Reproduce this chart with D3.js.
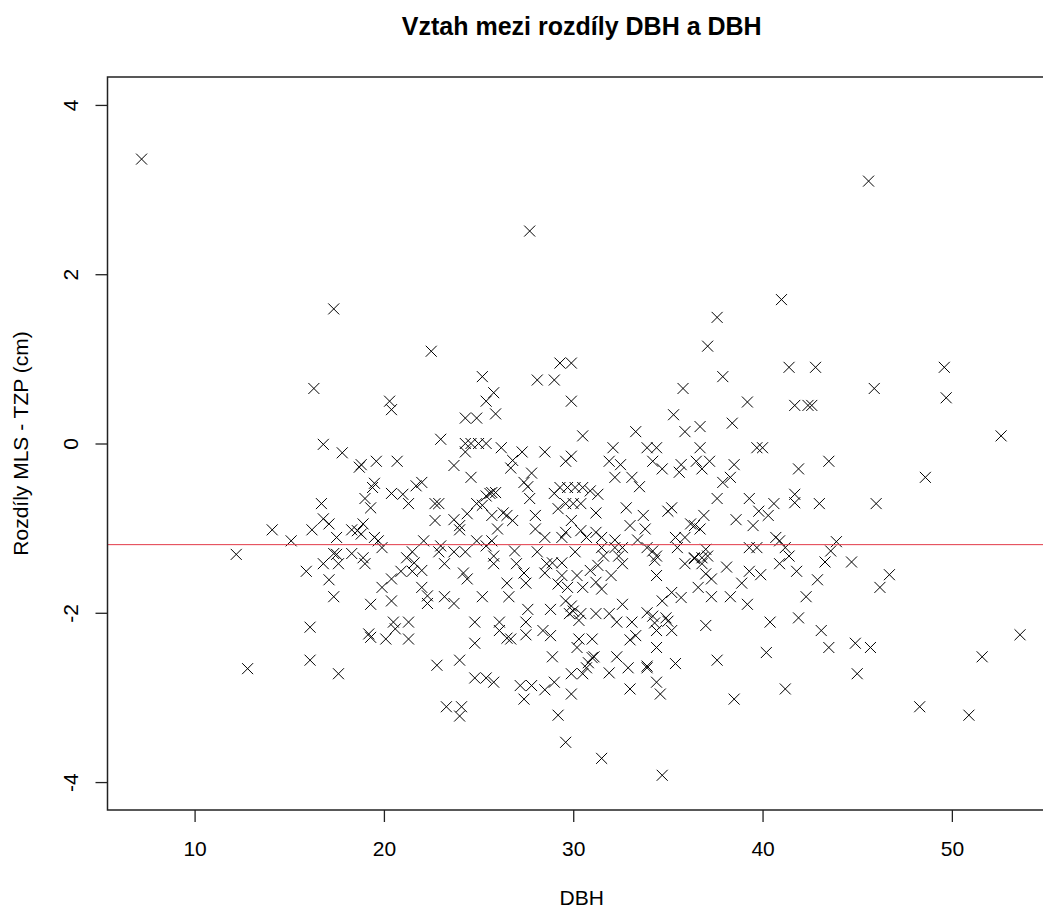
<!DOCTYPE html>
<html>
<head>
<meta charset="utf-8">
<script src="https://cdn.jsdelivr.net/npm/d3@7"></script>
<style>
  body { margin: 0; background: #fff; }
  svg { display: block; font-family: "Liberation Sans", Arial, sans-serif; }
</style>
</head>
<body>
<div id="chart"></div>
<script>
// DBH (cm) for each tree
var dbh = [
  17.35,16.3,20.3,20.4,16.8,17.8,18.7,18.8,19.6,20.7,
  19.5,19.4,20.4,19.0,19.3,16.7,16.8,17.1,14.1,16.2,
  17.5,18.3,18.6,18.9,18.8,19.5,19.7,15.1,19.9,
  12.2,15.9,16.8,17.35,17.5,17.6,18.3,18.9,19.0,17.1,17.35,
  19.3,19.9,20.4,20.4,16.1,19.3,19.2,20.1,20.5,20.6,
  16.1,12.8,17.6,
  22.5,29.3,29.9,25.2,28.1,29.0,25.8,25.4,29.9,25.9,
  24.3,24.9,23.0,30.5,24.3,24.6,25.0,25.4,24.3,26.2,
  27.3,28.5,23.7,26.8,26.7,29.6,29.9,27.8,24.6,27.4,
  27.6,21.7,22.0,21.0,21.3,25.6,25.7,25.9,25.4,27.7,
  29.0,29.3,29.7,30.1,30.5,30.9,29.6,30.0,30.4,29.2,
  31.2,22.7,22.9,24.9,25.2,24.4,22.7,23.7,24.0,24.0,
  25.7,26.3,26.5,26.8,26.0,28.0,28.0,28.5,29.9,30.4,
  29.6,29.4,30.7,31.2,22.1,23.0,24.9,25.7,25.4,21.5,
  21.2,22.9,23.7,24.3,26.9,28.1,30.1,25.8,
  21.6,22.0,21.5,20.9,23.2,24.2,24.4,25.8,27.0,27.4,
  28.6,28.9,29.4,28.5,29.4,30.2,30.9,31.3,29.2,29.7,
  30.5,31.2,26.5,27.5,22.0,22.3,22.3,23.2,23.7,25.2,
  26.6,27.6,28.8,29.6,29.9,29.8,30.0,30.4,30.3,31.2,
  21.3,21.3,24.8,24.8,26.1,26.1,26.5,26.7,27.5,27.5,
  28.4,28.8,30.3,31.0,30.2,22.8,24.0,28.9,31.0,31.1,
  30.8,30.7,29.9,30.5,24.8,25.4,25.8,27.2,27.8,28.5,
  29.0,27.4,29.9,23.3,24.1,24.0,29.2,29.6,
  41.0,37.6,37.1,41.4,37.9,35.8,39.2,41.7,35.3,33.3,
  35.9,36.7,38.4,32.1,33.9,34.4,36.7,39.7,40.0,31.9,
  32.5,34.2,34.7,35.7,35.6,36.5,36.8,37.2,38.5,41.9,
  32.2,33.1,33.5,37.9,38.3,31.3,32.8,33.7,35.0,35.2,
  37.6,39.3,39.8,40.3,40.6,41.7,41.7,33.0,33.8,36.2,
  36.4,36.9,36.7,38.6,39.5,31.5,32.2,33.4,35.4,35.9,
  40.7,40.9,31.5,32.2,32.6,33.9,34.2,35.5,37.0,39.3,
  39.7,41.2,31.6,32.4,34.4,36.4,36.8,37.1,41.4,
  35.9,36.4,36.8,37.0,37.3,38.1,39.3,39.9,40.9,41.8,
  32.6,32.0,31.5,34.4,34.3,38.9,36.6,35.2,35.7,34.7,
  37.3,38.3,39.2,32.6,31.9,32.3,33.1,33.9,34.2,34.3,
  34.9,35.0,35.2,34.4,37.0,40.4,41.9,33.0,33.3,34.4,
  32.3,32.9,31.9,33.9,33.9,35.4,37.6,40.2,34.4,33.0,
  34.6,38.5,41.2,31.5,34.7,
  42.8,49.6,45.9,49.7,42.4,42.6,52.6,43.5,48.6,43.0,
  46.0,43.9,43.6,43.3,44.7,42.9,46.7,46.2,42.3,43.1,
  43.5,44.9,45.7,45.0,53.6,51.6,48.3,50.9,7.2,27.7,
  45.6
];

// rozdil MLS - TZP (cm), same order as dbh
var rozdil = [
  1.59,0.65,0.50,0.40,-0.01,-0.11,-0.28,-0.25,-0.21,-0.21,
  -0.47,-0.52,-0.59,-0.65,-0.76,-0.71,-0.89,-0.95,-1.02,-1.02,
  -1.11,-1.02,-1.03,-0.95,-1.07,-1.11,-1.15,-1.15,-1.23,
  -1.31,-1.51,-1.42,-1.30,-1.31,-1.42,-1.30,-1.35,-1.42,-1.61,-1.81,
  -1.90,-1.70,-1.60,-1.86,-2.17,-2.29,-2.25,-2.31,-2.11,-2.19,
  -2.56,-2.66,-2.72,
  1.09,0.95,0.95,0.79,0.75,0.75,0.60,0.50,0.50,0.35,
  0.30,0.30,0.05,0.09,0.00,0.00,0.00,0.00,-0.10,-0.05,
  -0.10,-0.10,-0.26,-0.20,-0.29,-0.21,-0.15,-0.35,-0.40,-0.46,
  -0.51,-0.50,-0.46,-0.60,-0.71,-0.59,-0.58,-0.58,-0.62,-0.65,
  -0.59,-0.52,-0.52,-0.52,-0.52,-0.56,-0.71,-0.71,-0.71,-0.77,
  -0.82,-0.71,-0.71,-0.71,-0.73,-0.83,-0.91,-0.90,-0.97,-1.02,
  -0.85,-0.82,-0.85,-0.91,-1.01,-0.85,-1.01,-1.11,-0.91,-1.03,
  -1.05,-1.11,-1.11,-1.05,-1.15,-1.21,-1.15,-1.15,-1.21,-1.28,
  -1.35,-1.28,-1.28,-1.28,-1.27,-1.28,-1.28,-1.33,
  -1.41,-1.50,-1.51,-1.51,-1.42,-1.53,-1.60,-1.42,-1.42,-1.53,
  -1.42,-1.41,-1.41,-1.53,-1.56,-1.56,-1.50,-1.44,-1.66,-1.70,
  -1.70,-1.64,-1.65,-1.65,-1.70,-1.80,-1.89,-1.81,-1.89,-1.81,
  -1.81,-1.96,-1.96,-1.86,-1.92,-2.01,-1.98,-2.01,-2.09,-2.01,
  -2.11,-2.31,-2.11,-2.36,-2.11,-2.21,-2.30,-2.31,-2.11,-2.26,
  -2.21,-2.27,-2.31,-2.31,-2.41,-2.62,-2.56,-2.52,-2.53,-2.52,
  -2.59,-2.65,-2.72,-2.72,-2.77,-2.77,-2.82,-2.86,-2.86,-2.91,
  -2.82,-3.02,-2.96,-3.11,-3.11,-3.22,-3.21,-3.53,
  1.70,1.49,1.15,0.90,0.79,0.65,0.49,0.45,0.34,0.14,
  0.14,0.20,0.24,-0.05,-0.05,-0.05,-0.05,-0.05,-0.05,-0.21,
  -0.25,-0.21,-0.30,-0.25,-0.34,-0.21,-0.30,-0.21,-0.25,-0.30,
  -0.40,-0.40,-0.51,-0.46,-0.40,-0.60,-0.76,-0.85,-0.80,-0.76,
  -0.65,-0.65,-0.80,-0.85,-0.71,-0.60,-0.70,-0.97,-1.01,-0.95,
  -0.97,-0.85,-1.01,-0.90,-0.97,-1.11,-1.14,-1.14,-1.11,-1.11,
  -1.11,-1.15,-1.23,-1.23,-1.23,-1.23,-1.27,-1.23,-1.25,-1.23,
  -1.23,-1.23,-1.33,-1.33,-1.33,-1.35,-1.35,-1.33,-1.33,
  -1.42,-1.36,-1.42,-1.54,-1.60,-1.46,-1.51,-1.55,-1.42,-1.51,
  -1.42,-1.56,-1.72,-1.56,-1.38,-1.65,-1.70,-1.76,-1.82,-1.86,
  -1.81,-1.81,-1.90,-1.90,-2.01,-2.11,-2.11,-2.00,-2.04,-2.12,
  -2.06,-2.10,-2.21,-2.21,-2.15,-2.11,-2.06,-2.32,-2.27,-2.41,
  -2.52,-2.65,-2.71,-2.63,-2.65,-2.60,-2.56,-2.47,-2.82,-2.90,
  -2.96,-3.02,-2.90,-3.72,-3.92,
  0.90,0.90,0.65,0.54,0.45,0.45,0.09,-0.21,-0.40,-0.71,
  -0.71,-1.16,-1.27,-1.40,-1.40,-1.61,-1.55,-1.70,-1.81,-2.21,
  -2.41,-2.36,-2.41,-2.72,-2.26,-2.52,-3.11,-3.21,3.36,2.51,
  3.10
];

var meanRozdil = -1.195;
var xTicks = [10, 20, 30, 40, 50];
var yTicks = [-4, -2, 0, 2, 4];
var title = 'Vztah mezi rozdíly DBH a DBH';
var xTitle = 'DBH';
var yTitle = 'Rozdíly MLS - TZP (cm)';

var W = 1043, H = 909;
var plot = {left: 107.5, right: 1056, top: 77, bottom: 810};

var svg = d3.select('#chart')
  .append('svg')
  .attr('width', W)
  .attr('height', H);

var x = d3.scaleLinear().domain([5.4, 55.5]).range([plot.left, plot.right]);
var y = d3.scaleLinear().domain([-4.33, 4.33]).range([plot.bottom, plot.top]);

var points = dbh.map(function(d, i){ return {x: d, y: rozdil[i]}; });

// points (pch = 4)
svg.append('g')
  .selectAll('path')
  .data(points)
  .enter().append('path')
    .attr('transform', function(d){ return 'translate(' + x(d.x) + ',' + y(d.y) + ')'; })
    .attr('d', 'M-5.5,-5.5L5.5,5.5M-5.5,5.5L5.5,-5.5')
    .style('stroke', '#000')
    .style('stroke-width', 1)
    .style('fill', 'none');

// mean line
svg.append('line')
  .attr('x1', plot.left)
  .attr('x2', plot.right)
  .attr('y1', y(meanRozdil))
  .attr('y2', y(meanRozdil))
  .style('stroke', '#e23a48')
  .style('stroke-width', 1);

// box
svg.append('rect')
  .attr('x', plot.left)
  .attr('y', plot.top)
  .attr('width', plot.right - plot.left)
  .attr('height', plot.bottom - plot.top)
  .style('fill', 'none')
  .style('stroke', '#222')
  .style('stroke-width', 1.5);

// plain hyphen minus like R
var plain = function(d){ return String(d); };

// x axis
var xAxis = d3.axisBottom(x).tickValues(xTicks).tickFormat(plain).tickSize(12).tickSizeOuter(0);
var gx = svg.append('g')
  .attr('transform', 'translate(0,' + plot.bottom + ')')
  .call(xAxis);
gx.select('.domain').remove();
gx.selectAll('line').style('stroke', '#222').style('stroke-width', 1.3);
gx.selectAll('text')
  .attr('y', 46).attr('dy', 0)
  .style('font-size', '21px')
  .style('font-family', '"Liberation Sans", Arial, sans-serif')
  .style('fill', '#000');

// y axis
var yAxis = d3.axisLeft(y).tickValues(yTicks).tickFormat(plain).tickSize(12).tickSizeOuter(0);
var gy = svg.append('g')
  .attr('transform', 'translate(' + plot.left + ',0)')
  .call(yAxis);
gy.select('.domain').remove();
gy.selectAll('line').style('stroke', '#222').style('stroke-width', 1.3);
gy.selectAll('text')
  .attr('x', 0).attr('dy', 0)
  .attr('text-anchor', 'middle')
  .attr('transform', 'translate(-29.5,0) rotate(-90)')
  .style('font-size', '21px')
  .style('font-family', '"Liberation Sans", Arial, sans-serif')
  .style('fill', '#000');

var midX = (plot.left + plot.right) / 2;

svg.append('text')
  .text(title)
  .attr('x', midX)
  .attr('y', 35)
  .attr('text-anchor', 'middle')
  .style('font-size', '25px')
  .style('font-weight', 'bold')
  .style('fill', '#000');

svg.append('text')
  .text(xTitle)
  .attr('x', midX)
  .attr('y', 905)
  .attr('text-anchor', 'middle')
  .style('font-size', '21px')
  .style('fill', '#000');

svg.append('text')
  .text(yTitle)
  .attr('text-anchor', 'middle')
  .attr('transform', 'translate(28,' + ((plot.top + plot.bottom) / 2) + ') rotate(-90)')
  .style('font-size', '21px')
  .style('fill', '#000');
</script>
</body>
</html>
